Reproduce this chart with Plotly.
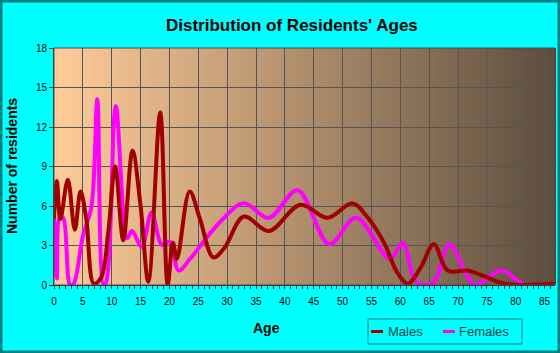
import plotly.graph_objects as go

male_age = [0, 0.5, 1.1, 2.4, 3.6, 4.6, 5.6, 6.9, 8.2, 9.4, 10.6, 12.0, 13.6, 15.0, 16.35, 18.4, 19.7, 20.6, 21.3, 23.5, 25.3, 27.6, 29.5, 32.9, 37.2, 42.7, 47.4, 51.7, 54.2, 57.2, 59.4, 61.3, 63.5, 65.8, 68.2, 71.7, 74.0, 78.1, 87]
male_val = [5.0, 7.9, 5.0, 8.0, 4.2, 7.1, 5.0, 0.1, 0.6, 4.0, 9.0, 3.4, 10.2, 6.0, 0.25, 13.1, 0.0, 3.2, 2.0, 7.1, 5.0, 2.1, 2.8, 5.2, 4.1, 6.1, 5.1, 6.2, 5.2, 3.2, 1.0, 0.1, 1.3, 3.1, 1.1, 1.1, 0.76, 0.1, 0.1]

female_age = [0, 0.5, 1.0, 1.6, 2.8, 3.4, 5.0, 6.5, 7.5, 8.6, 9.1, 10.7, 12.7, 13.5, 15.2, 16.9, 18.7, 20.1, 21.6, 23.6, 28.8, 32.9, 37.2, 42.2, 47.7, 52.3, 58.2, 60.4, 62.6, 64.6, 66.0, 68.5, 72.9, 77.5, 81.6, 87]
female_val = [5.0, 0.5, 5.2, 5.1, 0.0, 0.1, 3.7, 6.0, 14.1, 0.0, 0.3, 13.6, 3.56, 4.1, 2.9, 5.5, 3.05, 3.3, 1.1, 2.0, 4.8, 6.2, 5.1, 7.2, 3.1, 5.1, 2.0, 3.2, 0.3, 0.0, 0.3, 3.1, 0.05, 1.1, 0.0, 0.0]

x_ticks = list(range(0, 90, 5))
y_ticks = [0, 3, 6, 9, 12, 15, 18]

MALE_COLOR = "#A00000"
FEMALE_COLOR = "#FF00FF"

fig = go.Figure()
fig.add_trace(go.Scatter(x=female_age, y=female_val, name="Females", mode="lines", showlegend=False,
                         line=dict(color=FEMALE_COLOR, width=4, shape="spline", smoothing=1.0)))
fig.add_trace(go.Scatter(x=male_age, y=male_val, name="Males", mode="lines", showlegend=False,
                         line=dict(color=MALE_COLOR, width=4, shape="spline", smoothing=1.0)))

L, R, T, B = 54, 5, 48, 68
PW, PH = 560 - L - R, 353 - T - B


def px(x):
    return (x - L) / PW


def py(y):
    return (353 - B - y) / PH


# gradient background
c0 = (255, 204, 153)
c1 = (94, 78, 62)
n = 80
shapes = []
for i in range(n):
    t = i / (n - 1)
    col = tuple(round(c0[k] + (c1[k] - c0[k]) * t) for k in range(3))
    shapes.append(dict(type="rect", xref="paper", yref="paper", x0=i / n, x1=(i + 1) / n + 0.002,
                       y0=0, y1=1, fillcolor="rgb(%d,%d,%d)" % col, line=dict(width=0), layer="below"))
# plot border
shapes.append(dict(type="rect", xref="paper", yref="paper", x0=0, x1=1, y0=0, y1=1,
                   line=dict(color="#4a4a4a", width=1), layer="above"))
# outer image border
shapes.append(dict(type="rect", xref="paper", yref="paper", x0=px(1), x1=px(559),
                   y0=py(352), y1=py(1), line=dict(color="#008080", width=3), layer="above"))
# custom legend
shapes.append(dict(type="rect", xref="paper", yref="paper", x0=px(368), x1=px(522),
                   y0=py(344), y1=py(319), line=dict(color="#008080", width=1), layer="above"))
shapes.append(dict(type="line", xref="paper", yref="paper", x0=px(371), x1=px(383),
                   y0=py(331.5), y1=py(331.5), line=dict(color=MALE_COLOR, width=3), layer="above"))
shapes.append(dict(type="line", xref="paper", yref="paper", x0=px(443), x1=px(455),
                   y0=py(331.5), y1=py(331.5), line=dict(color=FEMALE_COLOR, width=3), layer="above"))

legend_font = dict(size=13, color="#004444", family="Liberation Sans, Arial, sans-serif")

fig.update_layout(
    width=560, height=353,
    margin=dict(l=L, r=R, t=T, b=B),
    paper_bgcolor="#00FFFF",
    plot_bgcolor="rgba(0,0,0,0)",
    font=dict(family="Liberation Sans, Arial, sans-serif", color="#000000", size=10),
    showlegend=False,
    shapes=shapes,
    annotations=[
        dict(text="<b>Distribution of Residents' Ages</b>", xref="paper", yref="paper",
             x=px(292), y=py(25), showarrow=False,
             font=dict(size=17, color="#000000"), xanchor="center", yanchor="middle"),
        dict(text="<b>Age</b>", xref="paper", yref="paper", x=px(266), y=py(328),
             showarrow=False, font=dict(size=14), xanchor="center", yanchor="middle"),
        dict(text="<b>Number of residents</b>", xref="paper", yref="paper", x=px(12),
             y=py(166), showarrow=False, textangle=-90, font=dict(size=14),
             xanchor="center", yanchor="middle"),
        dict(text="Males", xref="paper", yref="paper", x=px(386), y=py(331.5), showarrow=False,
             font=legend_font, xanchor="left", yanchor="middle"),
        dict(text="Females", xref="paper", yref="paper", x=px(457), y=py(331.5), showarrow=False,
             font=legend_font, xanchor="left", yanchor="middle"),
    ],
)
fig.update_xaxes(range=[0, 86.8], tickvals=x_ticks, ticks="outside", ticklen=3, tickcolor="#333333",
                 showgrid=True, gridcolor="#555555", gridwidth=1, showline=True, linecolor="#333333",
                 linewidth=1, zeroline=False, tickfont=dict(size=10), ticklabelstandoff=4,
                 minor=dict(dtick=1, tick0=0, ticks="outside", ticklen=3, tickcolor="#333333", showgrid=False))
fig.update_yaxes(range=[0, 18], tickvals=y_ticks, ticks="outside", ticklen=4, tickcolor="#333333",
                 showgrid=True, gridcolor="#555555", gridwidth=1, showline=True, linecolor="#333333",
                 linewidth=1, zeroline=False, tickfont=dict(size=10))

fig.write_html("out.html")
